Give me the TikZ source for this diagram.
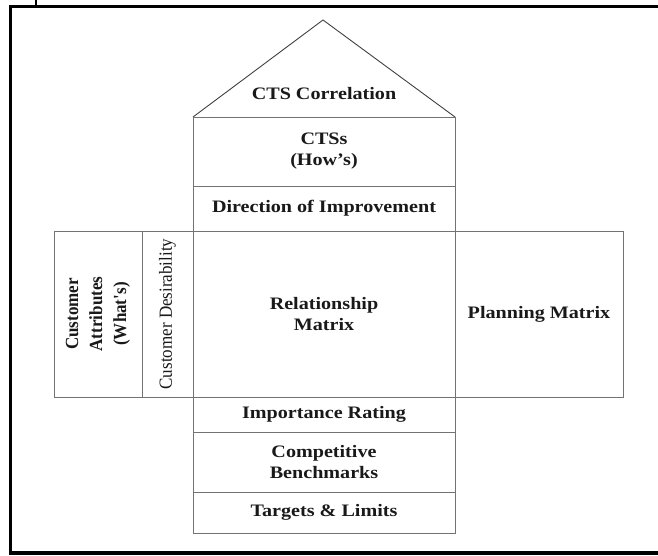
\documentclass[tikz,border=0pt]{standalone}
\usepackage{fontspec}
\setmainfont{Liberation Serif}[FakeStretch=1.15]
\newfontfamily\rotfont{Liberation Serif}[FakeStretch=0.92]
\usetikzlibrary{positioning}

\begin{document}
\begin{tikzpicture}[x=1pt, y=-1pt,
    part/.style={draw=black!55, line width=0.9pt, inner sep=0pt, align=center, text=black!90, font=\fontsize{17.5}{21}\selectfont\bfseries},
    sidelabel/.style={rotate=90, inner sep=0pt, align=center, text=black!90, font=\rotfont\fontsize{18.5}{24}\selectfont}]
  \useasboundingbox (0,0) rectangle (658,556);

  % Frame
  \draw[line width=3.5pt] (680,6.5) -- (10.5,6.5) -- (10.5,553) -- (680,553);
  \draw[line width=1.5pt] (36,-2) -- (36,6);

  % Roof
  \coordinate (eaveL) at (193,117);
  \coordinate (ridge) at (323,20);
  \coordinate (eaveR) at (455,117);
  \draw[black!75, line width=0.9pt] (eaveL) -- (ridge) -- (eaveR);
  \node[part, draw=none] (corr) at (324,94) {CTS Correlation};

  % Ceiling
  \node[part, minimum width=262, minimum height=69] (ctss) at (324,151.5) {CTSs\\(How's)};
  \node[part, minimum width=262, minimum height=45] (dir) at (324,208.5) {Direction of Improvement};

  % Middle row
  \node[part, minimum width=262, minimum height=166] (rel) at (324,314) {Relationship\\Matrix};
  \node[part, minimum width=168, minimum height=166] (plan) at (539,314) {Planning Matrix};
  \node[part, minimum width=51, minimum height=166] (desir) at (167.5,314) {};
  \node[sidelabel] (desirtxt) at (desir) {Customer Desirability};
  \node[part, minimum width=88, minimum height=166] (attr) at (98,314) {};
  \node[sidelabel, font=\rotfont\fontsize{18.5}{24}\selectfont\bfseries] (attrtxt) at (attr) {Customer\\Attributes\\(What's)};

  % Basement
  \node[part, minimum width=262, minimum height=35] (imp) at (324,414.5) {Importance Rating};
  \node[part, minimum width=262, minimum height=60] (bench) at (324,462) {Competitive\\Benchmarks};
  \node[part, minimum width=262, minimum height=41] (targ) at (324,512.5) {Targets \& Limits};
\end{tikzpicture}
\end{document}
